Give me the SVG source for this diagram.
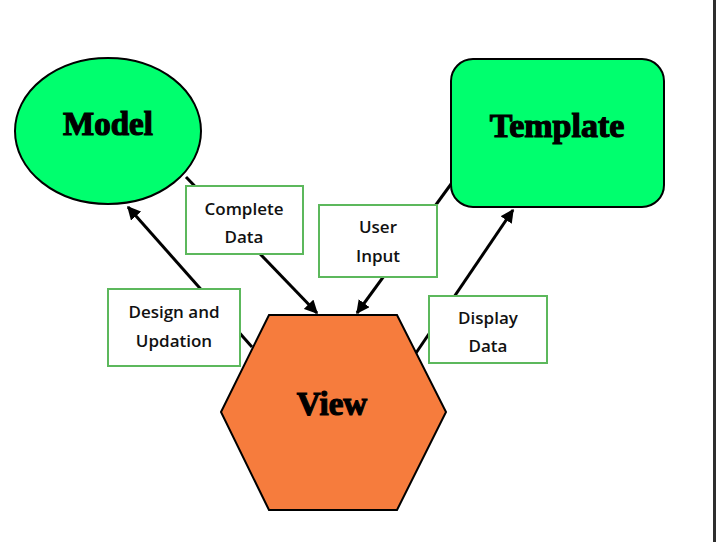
<svg xmlns="http://www.w3.org/2000/svg" width="716" height="542" viewBox="0 0 716 542">
<style>
.node{stroke:#000;stroke-width:2}
.green{fill:#00ff6e}
.orange{fill:#f67c3d}
.title{font-family:"Liberation Serif","DejaVu Serif",serif;font-weight:bold;font-size:33px;fill:#000;stroke:#000;stroke-width:1.2;text-anchor:middle}
.lbl rect{fill:#fff;stroke:#5cb85c;stroke-width:2}
.lbl text{font-family:"Open Sans","Liberation Sans",sans-serif;font-weight:600;font-size:17px;fill:#111;text-anchor:middle}
.conn{stroke:#000;stroke-width:3;fill:none}
</style>
<defs>
<marker id="arr" viewBox="0 0 10 10" refX="9" refY="5" markerWidth="4.5" markerHeight="4.5" markerUnits="strokeWidth" orient="auto">
<path d="M0,0 L10,5 L0,10 z" fill="#000"/>
</marker>
</defs>
<rect x="0" y="0" width="716" height="542" fill="#fff"/>
<rect x="713" y="0" width="3" height="542" fill="#2e2e2e"/>
<g id="connectors">
<line class="conn" x1="186" y1="177" x2="317" y2="313" marker-end="url(#arr)"/>
<line class="conn" x1="252" y1="347" x2="128" y2="207" marker-end="url(#arr)"/>
<line class="conn" x1="454" y1="180" x2="357" y2="313" marker-end="url(#arr)"/>
<line class="conn" x1="416" y1="353" x2="513" y2="210" marker-end="url(#arr)"/>
</g>
<g id="model">
<ellipse class="node green" cx="108" cy="131" rx="93" ry="73"/>
<text class="title" x="108" y="135">Model</text>
</g>
<g id="template">
<rect class="node green" x="451" y="59" width="213" height="148" rx="22"/>
<text class="title" x="557" y="137" style="font-size:34px">Template</text>
</g>
<g id="view">
<polygon class="node orange" points="269,315 397,315 446,412 397,510 269,510 221,412"/>
<text class="title" x="332" y="415">View</text>
</g>
<g id="label-complete-data" class="lbl">
<rect x="186" y="186" width="117" height="68"/>
<text x="244" y="215">Complete</text>
<text x="244" y="243">Data</text>
</g>
<g id="label-design-updation" class="lbl">
<rect x="108" y="289" width="132" height="77"/>
<text x="174" y="318">Design and</text>
<text x="174" y="347">Updation</text>
</g>
<g id="label-user-input" class="lbl">
<rect x="319" y="205" width="118" height="72"/>
<text x="378" y="233">User</text>
<text x="378" y="262">Input</text>
</g>
<g id="label-display-data" class="lbl">
<rect x="429" y="296" width="118" height="67"/>
<text x="488" y="324">Display</text>
<text x="488" y="352">Data</text>
</g>
</svg>
